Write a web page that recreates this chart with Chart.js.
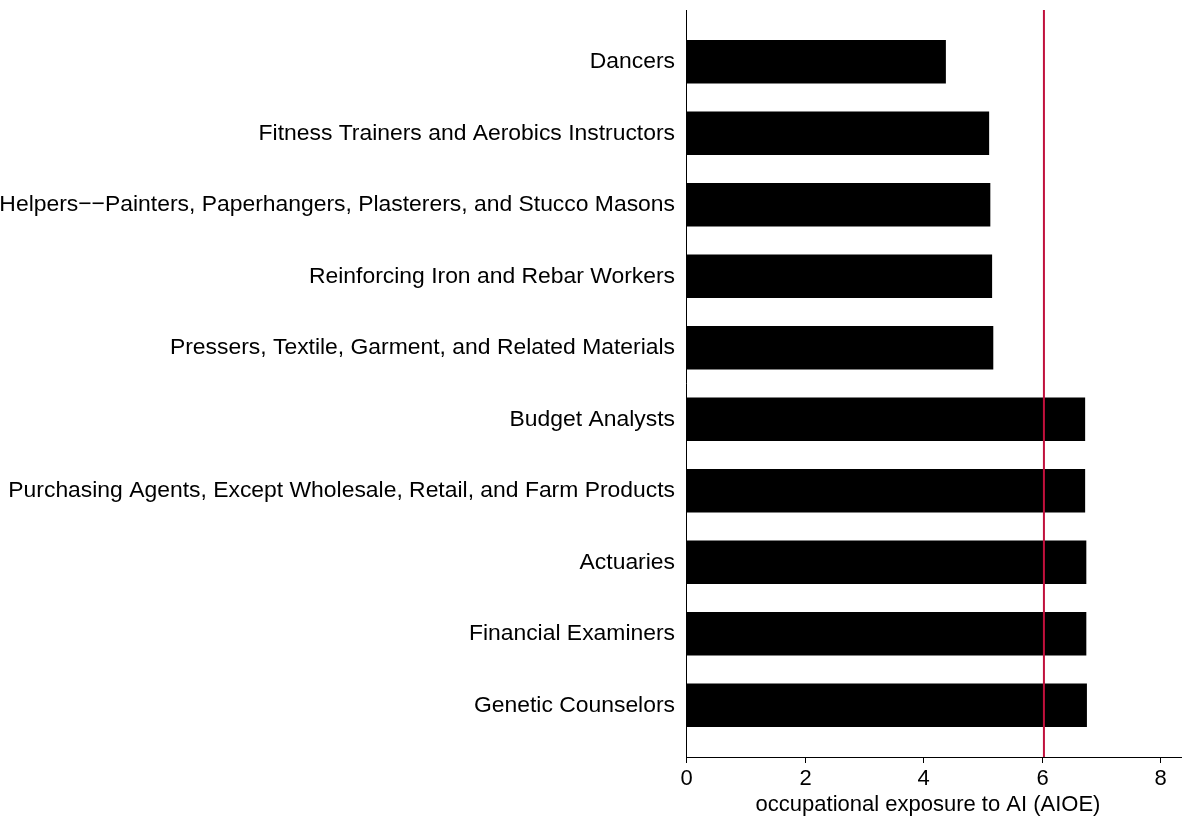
<!DOCTYPE html>
<html><head><meta charset="utf-8">
<script src="https://cdn.jsdelivr.net/npm/chart.js@4"></script>
<style>html,body{margin:0;padding:0;background:#fff}#w{width:1182px;height:817px}</style>
</head><body><div id="w"><canvas id="c"></canvas></div>
<script>
const categories = ["Dancers","Fitness Trainers and Aerobics Instructors","Helpers\u2212\u2212Painters, Paperhangers, Plasterers, and Stucco Masons","Reinforcing Iron and Rebar Workers","Pressers, Textile, Garment, and Related Materials","Budget Analysts","Purchasing Agents, Except Wholesale, Retail, and Farm Products","Actuaries","Financial Examiners","Genetic Counselors"];
const aioe = [4.38,5.11,5.13,5.16,5.18,6.73,6.73,6.75,6.75,6.76];
const refLine = 6.04;
const xTicks = [0,2,4,6,8];
const xTitle = 'occupational exposure to AI (AIOE)';
const FONT = "'Liberation Sans', Arial, sans-serif";
const FS = 22.9;
const axisPlugin = {
  id:'axes',
  afterDraw(ch){
    const c=ch.ctx, x=ch.scales.x;
    c.save();
    c.strokeStyle='#000'; c.lineWidth=1;
    const x0=Math.round(x.getPixelForValue(0))+0.5;
    c.beginPath(); c.moveTo(x0,10); c.lineTo(x0,757.5); c.stroke();
    c.beginPath(); c.moveTo(x0,757.5); c.lineTo(1182,757.5); c.stroke();
    c.fillStyle='#000'; c.font='22px '+FONT; c.textAlign='center'; c.textBaseline='middle';
    xTicks.forEach(t=>{const p=Math.round(x.getPixelForValue(t))+0.5;c.beginPath();c.moveTo(p,757);c.lineTo(p,763);c.stroke();c.fillText(String(t),p,779);});
    c.fillText(xTitle,928,805);
    const r=x.getPixelForValue(refLine);
    c.strokeStyle='#c0103c'; c.lineWidth=2;
    c.beginPath(); c.moveTo(r,10); c.lineTo(r,757); c.stroke();
    c.restore();
  }
};
new Chart(document.getElementById('c'),{
  type:'bar',
  data:{labels:categories,datasets:[{data:aioe,backgroundColor:'#000',barThickness:43}]},
  options:{
    indexAxis:'y',responsive:true,maintainAspectRatio:false,animation:false,
    layout:{padding:{top:26,right:0,left:0,bottom:76}},
    plugins:{legend:{display:false},tooltip:{enabled:false}},
    scales:{
      x:{min:0,max:8.37,afterBuildTicks(s){s.ticks=xTicks.map(v=>({value:v}));},
        grid:{display:false,drawTicks:false},border:{display:false},ticks:{display:false},title:{display:false}},
      y:{afterFit(s){s.width=686;},grid:{display:false,drawTicks:false},border:{display:false},
        ticks:{padding:11,color:'#000',font:{family:FONT,size:FS}}}
    }
  },
  plugins:[axisPlugin]
});
</script></body></html>
